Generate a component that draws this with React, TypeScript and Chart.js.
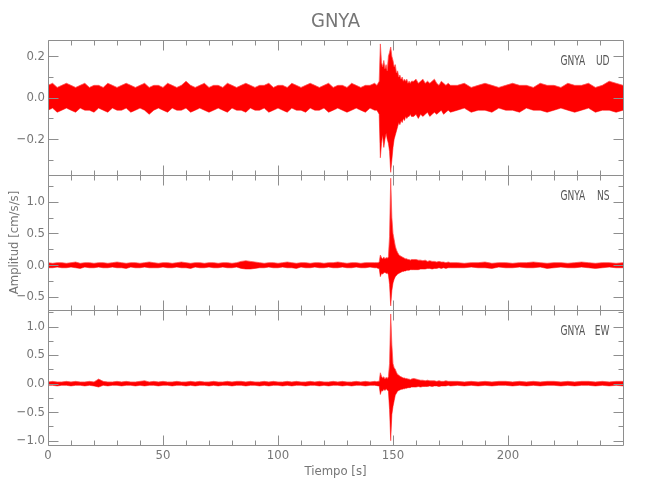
import React, { useEffect, useRef } from 'react';
import { Chart, registerables } from 'chart.js';

Chart.register(...registerables);

const stationName = 'GNYA';
const xAxisTitle = 'Tiempo [s]';
const yAxisTitle = 'Amplitud [cm/s/s]';
const componentNames = ['UD', 'NS', 'EW'];

// time of each envelope sample (s)
const timeSec = [
  0, 2, 4, 6, 8, 10, 12, 14, 16, 18, 20, 22,
  24, 26, 28, 30, 32, 34, 36, 38, 40, 42, 44, 46,
  48, 50, 52, 54, 56, 58, 60, 62, 64, 66, 68, 70,
  72, 74, 76, 78, 80, 82, 84, 86, 88, 90, 92, 94,
  96, 98, 100, 102, 104, 106, 108, 110, 112, 114, 116, 118,
  120, 122, 124, 126, 128, 130, 132, 134, 136, 138, 140, 142,
  143, 143.5, 144, 144.5, 145, 145.5, 146, 146.5, 147, 147.5, 148, 148.5, 149, 149.5, 150, 150.5,
  151, 151.5, 152, 152.5, 153, 153.5, 154, 154.5, 155, 155.5, 156, 156.5, 157, 157.5, 158,
  159, 160, 161, 162, 163, 164, 165, 166, 167, 168, 169, 170, 171, 172, 173, 174, 175,
  178, 181, 184, 187, 190, 193, 196, 199, 202, 205, 208, 211, 214, 217, 220, 223, 226, 229, 232, 235, 238, 241, 244, 247, 250,
];

// UD envelope (cm/s/s)
const udUpper = [
  0.06, 0.07, 0.05, 0.06, 0.07, 0.06, 0.05, 0.06, 0.07, 0.05, 0.06, 0.06,
  0.05, 0.07, 0.06, 0.05, 0.06, 0.07, 0.06, 0.05, 0.06, 0.07, 0.05, 0.06,
  0.06, 0.05, 0.07, 0.06, 0.05, 0.06, 0.08, 0.06, 0.05, 0.06, 0.07, 0.05,
  0.06, 0.06, 0.05, 0.07, 0.06, 0.05, 0.06, 0.07, 0.06, 0.05, 0.06, 0.06,
  0.07, 0.05, 0.06, 0.06, 0.05, 0.07, 0.06, 0.05, 0.06, 0.07, 0.06, 0.05,
  0.06, 0.07, 0.05, 0.06, 0.06, 0.05, 0.07, 0.06, 0.05, 0.06, 0.06, 0.07,
  0.06, 0.07, 0.08, 0.26, 0.17, 0.15, 0.18, 0.14, 0.16, 0.13, 0.2, 0.22, 0.245, 0.2, 0.18, 0.15,
  0.16, 0.12, 0.13, 0.1, 0.11, 0.09, 0.1, 0.08, 0.09, 0.08, 0.09, 0.07, 0.08, 0.07, 0.08,
  0.08, 0.09, 0.07, 0.08, 0.09, 0.07, 0.08, 0.07, 0.08, 0.09, 0.07, 0.06, 0.08, 0.07, 0.06, 0.07, 0.06,
  0.06, 0.07, 0.05, 0.06, 0.07, 0.06, 0.05, 0.06, 0.07, 0.06, 0.06, 0.05, 0.07, 0.06, 0.06, 0.05, 0.07, 0.06, 0.06, 0.07, 0.05, 0.06, 0.08, 0.07, 0.06,
];
const udLower = [
  -0.06, -0.05, -0.07, -0.06, -0.05, -0.06, -0.07, -0.05, -0.06, -0.06, -0.07, -0.05,
  -0.06, -0.07, -0.05, -0.06, -0.06, -0.05, -0.07, -0.06, -0.05, -0.06, -0.08, -0.06,
  -0.05, -0.06, -0.07, -0.05, -0.06, -0.06, -0.05, -0.07, -0.06, -0.05, -0.06, -0.07,
  -0.06, -0.05, -0.06, -0.07, -0.05, -0.06, -0.06, -0.07, -0.05, -0.06, -0.06, -0.05,
  -0.07, -0.06, -0.05, -0.06, -0.07, -0.05, -0.06, -0.06, -0.07, -0.05, -0.06, -0.06,
  -0.05, -0.07, -0.06, -0.05, -0.06, -0.07, -0.06, -0.05, -0.06, -0.07, -0.05, -0.06,
  -0.06, -0.07, -0.08, -0.29, -0.22, -0.18, -0.24, -0.2, -0.17, -0.2, -0.22, -0.26, -0.36, -0.3, -0.24, -0.2,
  -0.18, -0.16, -0.14, -0.12, -0.13, -0.11, -0.12, -0.1, -0.11, -0.09, -0.1, -0.09, -0.09, -0.08, -0.09,
  -0.09, -0.08, -0.1, -0.08, -0.09, -0.08, -0.07, -0.09, -0.08, -0.07, -0.08, -0.07, -0.06, -0.08, -0.07, -0.06, -0.07,
  -0.06, -0.05, -0.07, -0.06, -0.06, -0.07, -0.05, -0.06, -0.06, -0.07, -0.05, -0.06, -0.06, -0.07, -0.06, -0.05, -0.06, -0.07, -0.06, -0.05, -0.07, -0.06, -0.06, -0.07, -0.06,
];

// NS envelope (cm/s/s)
const nsUpper = [
  0.04, 0.03, 0.04, 0.04, 0.03, 0.04, 0.05, 0.03, 0.04, 0.04, 0.03, 0.04,
  0.04, 0.03, 0.04, 0.05, 0.04, 0.03, 0.04, 0.04, 0.03, 0.04, 0.05, 0.04,
  0.03, 0.04, 0.04, 0.03, 0.04, 0.05, 0.04, 0.03, 0.04, 0.04, 0.03, 0.04,
  0.04, 0.03, 0.04, 0.04, 0.03, 0.04, 0.06, 0.07, 0.06, 0.05, 0.04, 0.03,
  0.04, 0.04, 0.03, 0.04, 0.05, 0.04, 0.03, 0.04, 0.04, 0.03, 0.04, 0.04,
  0.03, 0.04, 0.04, 0.05, 0.04, 0.03, 0.04, 0.04, 0.03, 0.04, 0.04, 0.04,
  0.04, 0.04, 0.05, 0.16, 0.12, 0.1, 0.13, 0.1, 0.12, 0.11, 0.13, 0.45, 1.37, 0.75, 0.5, 0.4,
  0.3, 0.24, 0.2, 0.17, 0.15, 0.14, 0.13, 0.12, 0.11, 0.1, 0.1, 0.09, 0.09, 0.08, 0.09,
  0.09, 0.09, 0.08, 0.08, 0.07, 0.08, 0.06, 0.07, 0.06, 0.06, 0.05, 0.06, 0.05, 0.05, 0.04, 0.05, 0.04,
  0.04, 0.03, 0.04, 0.04, 0.05, 0.03, 0.04, 0.04, 0.03, 0.04, 0.04, 0.05, 0.04, 0.03, 0.04, 0.04, 0.03, 0.04, 0.05, 0.04, 0.03, 0.04, 0.04, 0.03, 0.04,
];
const nsLower = [
  -0.04, -0.04, -0.03, -0.04, -0.04, -0.03, -0.04, -0.05, -0.03, -0.04, -0.04, -0.03,
  -0.04, -0.04, -0.03, -0.04, -0.04, -0.05, -0.03, -0.04, -0.04, -0.03, -0.04, -0.04,
  -0.04, -0.03, -0.04, -0.04, -0.03, -0.04, -0.04, -0.05, -0.03, -0.04, -0.04, -0.03,
  -0.04, -0.04, -0.03, -0.04, -0.04, -0.03, -0.05, -0.06, -0.06, -0.05, -0.04, -0.04,
  -0.03, -0.04, -0.04, -0.03, -0.04, -0.04, -0.05, -0.03, -0.04, -0.04, -0.03, -0.04,
  -0.04, -0.03, -0.04, -0.04, -0.03, -0.04, -0.04, -0.03, -0.04, -0.04, -0.03, -0.04,
  -0.04, -0.05, -0.05, -0.18, -0.13, -0.14, -0.12, -0.11, -0.13, -0.12, -0.15, -0.3, -0.64, -0.4, -0.28, -0.22,
  -0.18, -0.16, -0.14, -0.13, -0.12, -0.11, -0.1, -0.1, -0.09, -0.09, -0.08, -0.08, -0.08, -0.07, -0.07,
  -0.07, -0.07, -0.07, -0.06, -0.06, -0.06, -0.05, -0.05, -0.06, -0.05, -0.05, -0.04, -0.05, -0.04, -0.05, -0.04, -0.04,
  -0.04, -0.04, -0.03, -0.04, -0.04, -0.05, -0.03, -0.04, -0.04, -0.03, -0.04, -0.04, -0.03, -0.05, -0.04, -0.03, -0.04, -0.04, -0.03, -0.04, -0.05, -0.04, -0.03, -0.04, -0.04,
];

// EW envelope (cm/s/s)
const ewUpper = [
  0.03, 0.04, 0.03, 0.03, 0.04, 0.03, 0.04, 0.03, 0.03, 0.04, 0.03, 0.08,
  0.04, 0.03, 0.03, 0.04, 0.03, 0.04, 0.03, 0.03, 0.04, 0.05, 0.03, 0.04,
  0.03, 0.04, 0.03, 0.03, 0.04, 0.03, 0.03, 0.04, 0.03, 0.04, 0.03, 0.03,
  0.04, 0.03, 0.03, 0.04, 0.03, 0.04, 0.04, 0.03, 0.04, 0.03, 0.03, 0.04,
  0.03, 0.04, 0.03, 0.03, 0.04, 0.03, 0.04, 0.03, 0.03, 0.04, 0.03, 0.04,
  0.03, 0.03, 0.04, 0.03, 0.04, 0.03, 0.03, 0.04, 0.03, 0.04, 0.03, 0.04,
  0.035, 0.04, 0.04, 0.19, 0.13, 0.1, 0.12, 0.08, 0.11, 0.09, 0.12, 0.35, 1.22, 0.68, 0.35, 0.28,
  0.25, 0.2, 0.16, 0.15, 0.13, 0.12, 0.11, 0.1, 0.1, 0.09, 0.09, 0.08, 0.08, 0.07, 0.08,
  0.09, 0.08, 0.07, 0.06, 0.06, 0.05, 0.06, 0.05, 0.05, 0.05, 0.04, 0.05, 0.04, 0.04, 0.05, 0.04, 0.04,
  0.04, 0.03, 0.04, 0.03, 0.04, 0.03, 0.04, 0.04, 0.03, 0.04, 0.03, 0.04, 0.03, 0.04, 0.04, 0.03, 0.04, 0.03, 0.04, 0.04, 0.03, 0.04, 0.03, 0.04, 0.04,
];
const ewLower = [
  -0.03, -0.03, -0.04, -0.03, -0.03, -0.04, -0.03, -0.03, -0.04, -0.03, -0.04, -0.06,
  -0.03, -0.04, -0.03, -0.03, -0.04, -0.03, -0.03, -0.04, -0.03, -0.04, -0.03, -0.03,
  -0.04, -0.03, -0.03, -0.04, -0.03, -0.03, -0.04, -0.03, -0.04, -0.03, -0.03, -0.04,
  -0.03, -0.04, -0.03, -0.03, -0.04, -0.03, -0.03, -0.04, -0.03, -0.03, -0.04, -0.03,
  -0.04, -0.03, -0.03, -0.04, -0.03, -0.04, -0.03, -0.03, -0.04, -0.03, -0.03, -0.04,
  -0.03, -0.04, -0.03, -0.03, -0.04, -0.03, -0.04, -0.03, -0.03, -0.04, -0.03, -0.03,
  -0.035, -0.04, -0.04, -0.19, -0.12, -0.13, -0.1, -0.12, -0.09, -0.11, -0.13, -0.45, -1.0, -0.54, -0.4, -0.3,
  -0.2, -0.17, -0.13, -0.12, -0.11, -0.1, -0.1, -0.09, -0.09, -0.08, -0.08, -0.07, -0.07, -0.07, -0.06,
  -0.06, -0.06, -0.05, -0.06, -0.05, -0.05, -0.05, -0.04, -0.05, -0.04, -0.04, -0.05, -0.04, -0.04, -0.04, -0.03, -0.04,
  -0.03, -0.04, -0.03, -0.04, -0.03, -0.04, -0.03, -0.03, -0.04, -0.03, -0.04, -0.03, -0.04, -0.03, -0.03, -0.04, -0.03, -0.04, -0.03, -0.03, -0.04, -0.03, -0.04, -0.03, -0.04,
];

const xRange = [0, 250];
const xMajorTicks = [0, 50, 100, 150, 200];
const xMinorTicks = [10, 20, 30, 40, 60, 70, 80, 90, 110, 120, 130, 140, 160, 170, 180, 190, 210, 220, 230, 240];

const udRange = [-0.373, 0.279];
const udMajorTicks = [-0.2, 0, 0.2];
const udMinorTicks = [-0.3, -0.1, 0.1];

const nsRange = [-0.705, 1.42];
const nsMajorTicks = [-0.5, 0, 0.5, 1.0];
const nsMinorTicks = [-0.25, 0.25, 0.75, 1.25];

const ewRange = [-1.075, 1.29];
const ewMajorTicks = [-1.0, -0.5, 0, 0.5, 1.0];
const ewMinorTicks = [-0.75, -0.25, 0.25, 0.75, 1.25];

const FONT = "'DejaVu Sans Condensed', 'DejaVu Sans', 'Liberation Sans', sans-serif";
const AXIS_COLOR = '#8e8e8e';
const TEXT_COLOR = '#767676';
const LABEL_COLOR = '#555555';
const TRACE_FILL = 'rgb(255,0,0)';
const TRACE_LINE = 'rgba(255,80,80,0.75)';

const panels = [
  { id: 'yUD', name: componentNames[0], upper: udUpper, lower: udLower, range: udRange, major: udMajorTicks, minor: udMinorTicks },
  { id: 'yNS', name: componentNames[1], upper: nsUpper, lower: nsLower, range: nsRange, major: nsMajorTicks, minor: nsMinorTicks },
  { id: 'yEW', name: componentNames[2], upper: ewUpper, lower: ewLower, range: ewRange, major: ewMajorTicks, minor: ewMinorTicks },
];

const toPoints = (values: number[]) => timeSec.map((t, i) => ({ x: t, y: values[i] }));
const fmtY = (v: number) => (v < -1e-9 ? '\u2212' : '') + Math.abs(v).toFixed(1);

// condensed text (the original uses a narrow vector font)
const drawNarrowText = (ctx: any, text: string, x: number, y: number, align: 'left' | 'right' | 'center', squeeze: number) => {
  ctx.save();
  ctx.translate(x, y);
  ctx.scale(squeeze, 1);
  ctx.textAlign = align;
  ctx.fillText(text, 0, 0);
  ctx.restore();
};

const framePlugin = {
  id: 'seismoFrame',
  afterDraw(chart: any) {
    const { ctx, chartArea: a, scales } = chart;
    const xs = scales.x;
    const L = Math.round(a.left) + 0.5;
    const R = Math.round(a.right) + 0.5;
    ctx.save();
    ctx.strokeStyle = AXIS_COLOR;
    ctx.lineWidth = 1;
    panels.forEach((p) => {
      const ys = scales[p.id];
      const T = Math.round(ys.top) + 0.5;
      const B = Math.round(ys.bottom) + 0.5;
      ctx.beginPath();
      ctx.rect(L, T, R - L, B - T);
      const yTick = (v: number, len: number) => {
        const y = Math.round(ys.getPixelForValue(v)) + 0.5;
        ctx.moveTo(L, y); ctx.lineTo(L + len, y);
        ctx.moveTo(R, y); ctx.lineTo(R - len, y);
      };
      p.major.forEach((v) => yTick(v, 10));
      p.minor.forEach((v) => yTick(v, 5));
      const xTick = (v: number, len: number) => {
        const x = Math.round(xs.getPixelForValue(v)) + 0.5;
        ctx.moveTo(x, T); ctx.lineTo(x, T + len);
        ctx.moveTo(x, B); ctx.lineTo(x, B - len);
      };
      xMajorTicks.forEach((v) => xTick(v, 10));
      xMinorTicks.forEach((v) => xTick(v, 5));
      ctx.stroke();

      ctx.fillStyle = LABEL_COLOR;
      ctx.font = `14px ${FONT}`;
      ctx.textBaseline = 'middle';
      drawNarrowText(ctx, stationName, R - 63, T + 21, 'left', 0.72);
      drawNarrowText(ctx, p.name, R - 14, T + 21, 'right', 0.72);
    });
    ctx.restore();
  },
};

export default function App() {
  const ref = useRef<HTMLCanvasElement | null>(null);

  useEffect(() => {
    if (!ref.current) return;
    const datasets: any[] = [];
    panels.forEach((p) => {
      datasets.push({
        label: `${p.name} max`,
        data: toPoints(p.upper),
        yAxisID: p.id,
        fill: '+1',
        backgroundColor: TRACE_FILL,
        borderColor: TRACE_LINE,
        borderWidth: 1,
        pointRadius: 0,
        tension: 0,
      });
      datasets.push({
        label: `${p.name} min`,
        data: toPoints(p.lower),
        yAxisID: p.id,
        fill: false,
        backgroundColor: TRACE_FILL,
        borderColor: TRACE_LINE,
        borderWidth: 1,
        pointRadius: 0,
        tension: 0,
      });
    });

    const tickFont = { family: FONT, size: 13 };
    const scales: any = {
      x: {
        type: 'linear',
        position: 'bottom',
        min: xRange[0],
        max: xRange[1],
        afterBuildTicks: (s: any) => { s.ticks = xMajorTicks.map((v) => ({ value: v })); },
        afterFit: (s: any) => { s.height = 55; },
        ticks: { color: TEXT_COLOR, font: tickFont, padding: 3, maxRotation: 0, autoSkip: false, callback: (v: any) => String(v) },
        grid: { display: false, drawTicks: false },
        border: { display: false },
        title: { display: true, text: xAxisTitle, color: TEXT_COLOR, font: tickFont, padding: { top: 0, bottom: 21 } },
      },
    };
    // left stacked boxes are placed starting from the last defined one (top)
    [...panels].reverse().forEach((p) => {
      scales[p.id] = {
        type: 'linear',
        position: 'left',
        stack: 'panels',
        stackWeight: 1,
        min: p.range[0],
        max: p.range[1],
        afterBuildTicks: (s: any) => { s.ticks = p.major.map((v) => ({ value: v })); },
        afterFit: (s: any) => { s.width = 48; },
        ticks: { color: TEXT_COLOR, font: tickFont, padding: 3, autoSkip: false, callback: (v: any) => fmtY(Number(v)) },
        grid: { display: false, drawTicks: false },
        border: { display: false },
        title: p.id === 'yNS'
          ? { display: true, text: yAxisTitle, color: TEXT_COLOR, font: tickFont, padding: { top: 7, bottom: 0 } }
          : { display: false },
      };
    });

    const chart = new Chart(ref.current, {
      type: 'line',
      data: { datasets },
      options: {
        animation: false,
        responsive: false,
        devicePixelRatio: 1,
        events: [],
        layout: { padding: { left: 0, right: 27, top: 0, bottom: 0 } },
        scales,
        plugins: {
          legend: { display: false },
          tooltip: { enabled: false },
          title: {
            display: true,
            text: stationName,
            fullSize: false,
            color: TEXT_COLOR,
            font: { family: FONT, size: 20, weight: 'normal' },
            padding: { top: 10, bottom: 6 },
          },
        },
      } as any,
      plugins: [framePlugin],
    });
    return () => chart.destroy();
  }, []);

  return (
    <div style={{ position: 'absolute', left: 0, top: 0, width: 650, height: 500, background: '#fff' }}>
      <canvas ref={ref} width={650} height={500} style={{ display: 'block' }} />
    </div>
  );
}
